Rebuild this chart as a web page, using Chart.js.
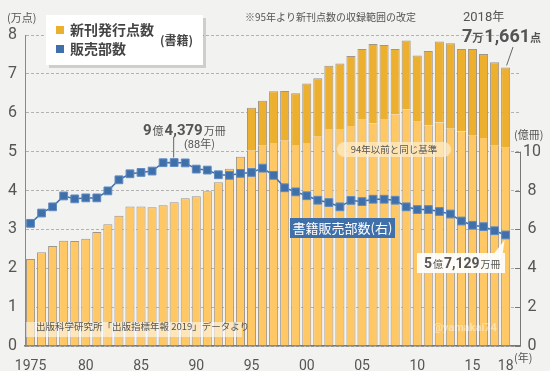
<!DOCTYPE html>
<html>
<head>
<meta charset="utf-8">
<script src="https://cdn.jsdelivr.net/npm/chart.js@4"></script>
<style>
    html, body { margin: 0; padding: 0; background: #f2f2f0; }
    #wrap { width: 550px; height: 371px; }
</style>
</head>
<body>
<div id="wrap"><canvas id="myChart"></canvas></div>
<script>
const years = [
    1975, 1976, 1977, 1978, 1979, 1980, 1981, 1982, 1983, 1984,
    1985, 1986, 1987, 1988, 1989, 1990, 1991, 1992, 1993, 1994,
    1995, 1996, 1997, 1998, 1999, 2000, 2001, 2002, 2003, 2004,
    2005, 2006, 2007, 2008, 2009, 2010, 2011, 2012, 2013, 2014,
    2015, 2016, 2017, 2018
];

// 新刊発行点数 (万点)
const titles = [
    2.24, 2.41, 2.57, 2.71, 2.70, 2.76, 2.93, 3.13, 3.35, 3.59,
    3.59, 3.57, 3.62, 3.70, 3.80, 3.85, 3.98, 4.21, 4.56, 4.87,
    6.13, 6.31, 6.55, 6.56, 6.50, 6.75, 6.89, 7.21, 7.27, 7.46,
    7.64, 7.77, 7.74, 7.64, 7.86, 7.47, 7.59, 7.83, 7.79, 7.64,
    7.64, 7.51, 7.30, 7.1661
];

// 94年以前と同じ基準 (1995-2018, 万点)
const oldBasisFrom = 1995;
const titlesOldBasis = [
    5.02, 5.15, 5.22, 5.28, 5.17, 5.22, 5.38, 5.58, 5.56, 5.66,
    5.82, 5.73, 5.82, 5.96, 6.09, 5.77, 5.68, 5.75, 5.59, 5.52,
    5.41, 5.35, 5.15, 5.10
];

// 書籍販売部数 (億冊)
const copies = [
    6.31, 6.84, 7.16, 7.72, 7.57, 7.62, 7.62, 7.98, 8.55, 8.86,
    8.93, 9.00, 9.43, 9.4379, 9.42, 9.10, 9.05, 8.81, 8.78, 8.88,
    8.93, 9.15, 8.78, 8.14, 7.93, 7.73, 7.50, 7.38, 7.16, 7.49,
    7.43, 7.55, 7.55, 7.50, 7.16, 7.02, 7.02, 6.92, 6.79, 6.43,
    6.21, 6.14, 5.93, 5.7129
];

const xTickYears = [1975, 1980, 1985, 1990, 1995, 2000, 2005, 2010, 2015, 2018];
const rightTicks = [0, 2, 4, 6, 8, 10];

const lightColor = '#FFC865';
const darkColor = '#EDAF2E';
const blue = '#4070AA';
const barBorder = '#a0968a';
const textColor = '#555555';
const numFont = "'Liberation Sans Narrow', Roboto, 'Noto Sans CJK JP', sans-serif";
const jpFont = "'Noto Sans CJK JP', sans-serif";

const oldStart = years.indexOf(oldBasisFrom);
const lowerData = years.map((y, i) => ({
    x: y,
    y: y < oldBasisFrom ? titles[i] : titlesOldBasis[i - oldStart]
}));
const upperData = years.map((y, i) => ({
    x: y,
    y: y < oldBasisFrom ? null : titles[i] - titlesOldBasis[i - oldStart]
}));
const lineData = years.map((y, i) => ({x: y, y: copies[i]}));

function drawParts(ctx, parts, x, y) {
    let cx = x;
    ctx.textBaseline = 'alphabetic';
    ctx.textAlign = 'left';
    for (const p of parts) {
        ctx.font = p.font;
        ctx.fillStyle = p.color || textColor;
        ctx.fillText(p.t, cx, y);
        cx += ctx.measureText(p.t).width + (p.gap || 0);
    }
    return cx;
}

function roundRect(ctx, x, y, w, h, r) {
    ctx.beginPath();
    ctx.moveTo(x + r, y);
    ctx.arcTo(x + w, y, x + w, y + h, r);
    ctx.arcTo(x + w, y + h, x, y + h, r);
    ctx.arcTo(x, y + h, x, y, r);
    ctx.arcTo(x, y, x + w, y, r);
    ctx.closePath();
}

const decorations = {
    id: 'decorations',
    afterDraw(chart) {
        const ctx = chart.ctx;
        const xs = chart.scales.x;
        const yl = chart.scales.y;
        const yr = chart.scales.y1;
        const right = chart.chartArea.right;

        ctx.save();

        // right axis line + ticks (0 - 10 only)
        ctx.strokeStyle = '#777';
        ctx.lineWidth = 1;
        ctx.beginPath();
        ctx.moveTo(right + 0.5, yr.getPixelForValue(0));
        ctx.lineTo(right + 0.5, yr.getPixelForValue(10));
        for (const t of rightTicks) {
            const py = Math.round(yr.getPixelForValue(t)) + 0.5;
            ctx.moveTo(right - 5, py);
            ctx.lineTo(right + 0.5, py);
        }
        ctx.stroke();

        // units
        ctx.fillStyle = textColor;
        ctx.font = '11px ' + jpFont;
        ctx.textBaseline = 'middle';
        ctx.textAlign = 'left';
        ctx.fillText('(万点)', 7, 18);
        ctx.fillText('(億冊)', 514, 135);
        ctx.fillText('(年)', 514, 358);

        // note at top
        ctx.font = '10px ' + jpFont;
        ctx.fillText('※95年より新刊点数の収録範囲の改定', 245, 17);

        // legend box
        ctx.fillStyle = 'rgba(0,0,0,0.15)';
        ctx.fillRect(49, 18, 157, 50);
        ctx.fillStyle = '#ffffff';
        ctx.fillRect(46, 15, 157, 50);
        ctx.fillStyle = darkColor;
        ctx.fillRect(56, 26, 8, 8);
        ctx.fillStyle = blue;
        ctx.fillRect(56, 45, 8, 8);
        ctx.fillStyle = '#444';
        ctx.font = 'bold 14px ' + jpFont;
        ctx.textBaseline = 'middle';
        ctx.fillText('新刊発行点数', 70, 30);
        ctx.fillText('販売部数', 70, 49);
        ctx.font = 'bold 12px ' + jpFont;
        ctx.fillText('(書籍)', 160, 40);

        // 2018 annotation
        const x18 = xs.getPixelForValue(2018);
        const top18 = yl.getPixelForValue(titles[titles.length - 1]);
        drawParts(ctx, [
            {t: '2018', font: '13px ' + numFont},
            {t: '年', font: '12px ' + jpFont}
        ], 463, 21);
        drawParts(ctx, [
            {t: '7', font: 'bold 18px ' + numFont},
            {t: '万', font: 'bold 11px ' + jpFont, gap: 1},
            {t: '1,661', font: 'bold 18px ' + numFont},
            {t: '点', font: 'bold 11px ' + jpFont}
        ], 462, 42);
        ctx.strokeStyle = '#666';
        ctx.beginPath();
        ctx.moveTo(513, 47);
        ctx.lineTo(x18 + 1, top18 - 2);
        ctx.stroke();

        // peak annotation (88)
        const i88 = years.indexOf(1988);
        const px88 = xs.getPixelForValue(1988);
        const py88 = yr.getPixelForValue(copies[i88]);
        ctx.beginPath();
        ctx.moveTo(px88 - 0.5, 137);
        ctx.lineTo(px88 - 0.5, py88 - 5);
        ctx.stroke();
        drawParts(ctx, [
            {t: '9', font: 'bold 15px ' + numFont, gap: 1},
            {t: '億', font: '11px ' + jpFont, gap: 1},
            {t: '4,379', font: 'bold 15px ' + numFont, gap: 1},
            {t: '万冊', font: '11px ' + jpFont}
        ], 143, 135);
        drawParts(ctx, [
            {t: '(88', font: '11px ' + numFont},
            {t: '年)', font: '11px ' + jpFont}
        ], 184, 148);

        // 94年以前と同じ基準 pill
        ctx.fillStyle = 'rgba(255, 236, 200, 0.75)';
        roundRect(ctx, 337, 142, 114, 15, 7.5);
        ctx.fill();
        ctx.fillStyle = textColor;
        ctx.font = '9.5px ' + jpFont;
        ctx.textAlign = 'center';
        ctx.textBaseline = 'middle';
        ctx.fillText('94年以前と同じ基準', 394, 149.5);

        // 書籍販売部数(右)
        ctx.fillStyle = blue;
        ctx.fillRect(290, 218, 105, 20);
        ctx.fillStyle = '#ffffff';
        ctx.font = '13px ' + jpFont;
        ctx.fillText('書籍販売部数(右)', 342.5, 228.5);

        // 2018 copies annotation
        const py18 = yr.getPixelForValue(copies[copies.length - 1]);
        ctx.fillStyle = 'rgba(255,255,255,0.92)';
        ctx.beginPath();
        ctx.moveTo(x18 - 1, py18 + 5);
        ctx.lineTo(x18 - 12, 254);
        ctx.lineTo(x18 - 3, 254);
        ctx.closePath();
        ctx.fill();
        ctx.fillRect(417, 253, 88, 20);
        drawParts(ctx, [
            {t: '5', font: 'bold 14px ' + numFont, gap: 1},
            {t: '億', font: '10px ' + jpFont, gap: 1},
            {t: '7,129', font: 'bold 14px ' + numFont, gap: 1},
            {t: '万冊', font: '10px ' + jpFont}
        ], 424, 268);

        // source
        ctx.fillStyle = 'rgba(255,255,255,0.55)';
        ctx.fillRect(26, 322, 216, 15);
        ctx.fillStyle = textColor;
        ctx.font = '9.5px ' + jpFont;
        ctx.textAlign = 'left';
        ctx.fillText('出版科学研究所「出版指標年報 2019」データより', 36, 330);

        // watermark
        ctx.fillStyle = 'rgba(255,255,255,0.45)';
        ctx.font = 'bold 11px ' + numFont;
        ctx.fillText('@yamakai74', 433, 331);

        ctx.restore();
    }
};

const ctx = document.getElementById('myChart');

new Chart(ctx, {
    data: {
        datasets: [
            {
                type: 'line',
                label: '販売部数',
                data: lineData,
                yAxisID: 'y1',
                borderColor: blue,
                borderWidth: 1.5,
                pointStyle: 'rect',
                pointRadius: 5.5,
                pointBackgroundColor: blue,
                pointBorderColor: '#5f8ac2',
                pointBorderWidth: 1,
                tension: 0
            },
            {
                type: 'bar',
                label: '新刊発行点数',
                data: lowerData,
                yAxisID: 'y',
                backgroundColor: lightColor,
                borderColor: barBorder,
                borderWidth: (c) => (c.raw && c.raw.x >= oldBasisFrom)
                    ? {left: 1, right: 1, top: 0, bottom: 0}
                    : {left: 1, right: 1, top: 1, bottom: 0},
                barPercentage: 0.82,
                categoryPercentage: 1
            },
            {
                type: 'bar',
                label: '新刊発行点数(改定後)',
                data: upperData,
                yAxisID: 'y',
                backgroundColor: darkColor,
                borderColor: barBorder,
                borderWidth: {left: 1, right: 1, top: 1, bottom: 0},
                barPercentage: 0.82,
                categoryPercentage: 1
            }
        ]
    },
    options: {
        responsive: true,
        maintainAspectRatio: false,
        animation: false,
        layout: {
            padding: {top: 35, right: 10, left: 0, bottom: 0}
        },
        plugins: {
            legend: {display: false},
            tooltip: {enabled: false}
        },
        scales: {
            x: {
                type: 'linear',
                offset: false,
                stacked: true,
                min: 1974.5,
                max: 2019.3,
                afterBuildTicks: (scale) => {
                    scale.ticks = xTickYears.map(v => ({value: v}));
                },
                afterFit: (scale) => {
                    scale.height = 25;
                    scale.paddingLeft = 0;
                    scale.paddingRight = 0;
                },
                grid: {display: false, offset: false},
                border: {display: true, color: '#777', width: 1.5},
                ticks: {
                    autoSkip: false,
                    maxRotation: 0,
                    padding: 4,
                    color: textColor,
                    font: {family: numFont, size: 14},
                    callback: (v) => v === 1975 ? '1975' : String(v % 100).padStart(2, '0')
                }
            },
            y: {
                stacked: true,
                position: 'left',
                min: 0,
                max: 8,
                afterFit: (scale) => {
                    scale.width = 25;
                    scale.paddingTop = 0;
                    scale.paddingBottom = 0;
                },
                ticks: {
                    stepSize: 1,
                    padding: 8,
                    color: textColor,
                    font: {family: numFont, size: 16}
                },
                grid: {
                    color: '#b2b2b2',
                    drawTicks: false
                },
                border: {display: true, color: '#888', width: 1, dash: [3, 2]}
            },
            y1: {
                position: 'right',
                min: 0,
                max: 16,
                afterBuildTicks: (scale) => {
                    scale.ticks = rightTicks.map(v => ({value: v}));
                },
                afterFit: (scale) => {
                    scale.width = 20;
                    scale.paddingTop = 0;
                    scale.paddingBottom = 0;
                },
                ticks: {
                    padding: 3,
                    crossAlign: 'center',
                    color: textColor,
                    font: {family: numFont, size: 16}
                },
                grid: {display: false, drawTicks: false},
                border: {display: false}
            }
        }
    },
    plugins: [decorations]
});
</script>
</body>
</html>
